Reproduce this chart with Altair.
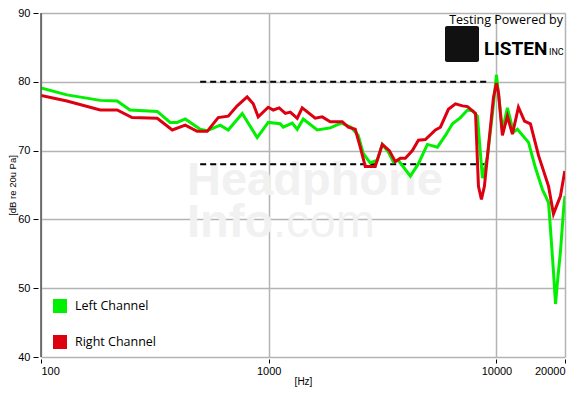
import altair as alt
import pandas as pd

# ---- data ----
left_freq = [100, 130, 182, 216, 246, 324, 369, 396, 430, 500, 537, 612, 664, 765, 890, 995,
             1124, 1158, 1269, 1334, 1418, 1633, 1863, 2080, 2300, 2473, 2600, 2790, 2998,
             3153, 3352, 3524, 3708, 4188, 4543, 4974, 5506, 5970, 6411, 6950, 7464, 7852,
             8250, 8675, 9123, 9600, 10000, 10620, 11170, 11880, 12360, 13830, 14830, 15930,
             16420, 16940, 17270, 17800, 18170, 18540, 19100, 19720, 20000]
left_db = [79.1, 78.1, 77.3, 77.2, 75.9, 75.7, 74.1, 74.1, 74.6, 73.1, 72.9, 73.7, 73.0, 75.4, 71.9, 74.1,
           73.9, 73.4, 74.0, 73.1, 74.6, 73.0, 73.3, 74.0, 73.4, 72.2, 69.6, 68.2, 68.6,
           70.9, 69.8, 68.4, 68.6, 66.3, 68.1, 70.9, 70.5, 72.2, 73.9, 74.8, 75.9, 75.8,
           75.0, 66.0, 69.1, 75.3, 81.0, 72.9, 76.2, 72.7, 73.1, 71.2, 67.5, 64.3,
           63.4, 62.4, 58.6, 52.4, 47.7, 51.0, 55.3, 61.5, 63.4]

right_freq = [100, 130, 182, 216, 251, 324, 377, 430, 485, 537, 600, 664, 727, 804, 855, 899,
              995, 1047, 1112, 1183, 1244, 1334, 1403, 1600, 1718, 1863, 2103, 2236, 2399,
              2523, 2654, 2936, 3153, 3386, 3597, 3784, 3981, 4274, 4543, 4874, 5397, 5675,
              6152, 6607, 7095, 7464, 8093, 8337, 8590, 8853, 9218, 9700, 10000, 10210,
              10620, 11170, 11750, 12490, 13280, 14100, 15300, 16940, 17800, 19100, 19920, 20000]
right_db = [78.0, 77.2, 75.9, 75.9, 74.8, 74.7, 73.0, 73.7, 72.8, 72.8, 74.8, 75.0, 76.5, 77.8, 76.8, 74.9,
            76.3, 75.9, 76.2, 75.4, 75.6, 74.7, 76.2, 74.7, 74.9, 74.2, 74.2, 73.4, 73.1,
            70.5, 67.7, 67.7, 70.9, 70.0, 68.4, 68.9, 68.9, 70.0, 71.5, 71.6, 73.0, 73.4,
            76.0, 76.8, 76.5, 76.4, 75.4, 64.8, 62.9, 64.8, 70.5, 77.7, 79.8, 78.4,
            72.2, 75.0, 72.4, 76.3, 74.3, 73.9, 69.3, 64.8, 60.8, 63.4, 66.9, 67.0]

series_names = ["Left Channel", "Right Channel"]
series_colors = ["#00f000", "#dd0011"]

dash_start = [500, 500]
dash_end = [9100, 9100]
dash_level = [80, 68]

x_ticks = [100, 1000, 10000, 20000]
y_ticks = [40, 45, 50, 55, 60, 65, 70, 75, 80, 85, 90]

# ---- tables ----
df = pd.concat([
    pd.DataFrame({"f": left_freq, "db": left_db, "ch": series_names[0], "o": range(len(left_freq))}),
    pd.DataFrame({"f": right_freq, "db": right_db, "ch": series_names[1], "o": range(len(right_freq))}),
])
dash_df = pd.DataFrame({"f1": dash_start, "f2": dash_end, "db": dash_level})
one = pd.DataFrame({"k": [0]})

W, H = 524, 344

xscale = alt.Scale(type="log", domain=[100, 20000], nice=False)
yscale = alt.Scale(domain=[40, 90], nice=False, zero=False)

lines = alt.Chart(df).mark_line(strokeWidth=3, strokeJoin="miter", clip=True).encode(
    x=alt.X("f:Q", scale=xscale,
            axis=alt.Axis(values=x_ticks, format="d", title="[Hz]", grid=True, domain=False,
                          offset=2, tickSize=4, tickColor="#000", labelPadding=2,
                          labelFont="Liberation Sans", labelFontSize=11, labelColor="#000",
                          titleFont="Liberation Sans", titleFontSize=10, titleFontWeight="normal",
                          titleColor="#000", titlePadding=0,
                          gridColor="#b4b4b4", gridWidth=1.5)),
    y=alt.Y("db:Q", scale=yscale,
            axis=alt.Axis(values=y_ticks, title="[dB re 20u Pa]", grid=True, domain=False,
                          offset=3, tickSize=5, tickColor="#000", labelPadding=3,
                          labelFont="Liberation Sans", labelFontSize=11, labelColor="#000",
                          titleFont="Liberation Sans", titleFontSize=9.5, titleFontWeight="normal",
                          titleColor="#000", titlePadding=0,
                          gridColor="#b4b4b4", gridWidth=1.5)),
    color=alt.Color("ch:N", scale=alt.Scale(domain=series_names, range=series_colors),
                    legend=alt.Legend(title=None, orient="none", legendX=12, legendY=286,
                                      symbolType="square", symbolSize=49, symbolStrokeWidth=7,
                                      rowPadding=0, labelOffset=8, padding=0,
                                      labelFont="Open Sans", labelFontSize=12.5, labelColor="#000")),
    order="o:Q",
)

dashes = alt.Chart(dash_df).mark_rule(color="#000", strokeWidth=2, strokeDash=[6, 4]).encode(
    x=alt.X("f1:Q", scale=xscale), x2="f2:Q", y=alt.Y("db:Q", scale=yscale))

left_border = alt.Chart(one).mark_rule(color="#555", strokeWidth=1.5).encode(
    x=alt.value(0), y=alt.value(0), y2=alt.value(H))

wm_color = "#f1f1f1"
wm1 = alt.Chart(one).mark_text(text="Headphone", font="Liberation Sans", fontWeight="bold",
                               fontSize=47, color=wm_color, align="left", baseline="alphabetic").encode(
    x=alt.value(146), y=alt.value(182))
wm2 = alt.Chart(one).mark_text(text="Info", font="Liberation Sans", fontWeight="bold",
                               fontSize=47, color=wm_color, align="left", baseline="alphabetic").encode(
    x=alt.value(146), y=alt.value(224))
wm3 = alt.Chart(one).mark_text(text=".com", font="Liberation Sans",
                               fontSize=47, color=wm_color, align="left", baseline="alphabetic").encode(
    x=alt.value(232), y=alt.value(224))

t1 = alt.Chart(one).mark_text(text="Testing Powered by", font="Open Sans", fontSize=12.5,
                              color="#000", align="right").encode(
    x=alt.value(522), y=alt.value(7))
logo = alt.Chart(one).mark_rect(color="#111", cornerRadius=2).encode(
    x=alt.value(404), x2=alt.value(438), y=alt.value(13), y2=alt.value(49))
t2 = alt.Chart(one).mark_text(text="LISTEN", font="Roboto", fontWeight="bold",
                              fontSize=19, color="#000", align="left", baseline="alphabetic").encode(
    x=alt.value(443), y=alt.value(42))
t3 = alt.Chart(one).mark_text(text="INC", font="Roboto", fontSize=9,
                              color="#000", align="left", baseline="alphabetic").encode(
    x=alt.value(508), y=alt.value(42))

chart = alt.layer(wm1, wm2, wm3, dashes, lines, left_border, t1, logo, t2, t3).properties(
    width=W, height=H,
    autosize=alt.AutoSizeParams(type="none"),
    padding={"left": 33, "top": 5, "right": 10, "bottom": 30},
).configure_view(stroke=None).configure(background="#ffffff")

chart.save("out.html", embed_options={"renderer": "svg", "actions": False})
